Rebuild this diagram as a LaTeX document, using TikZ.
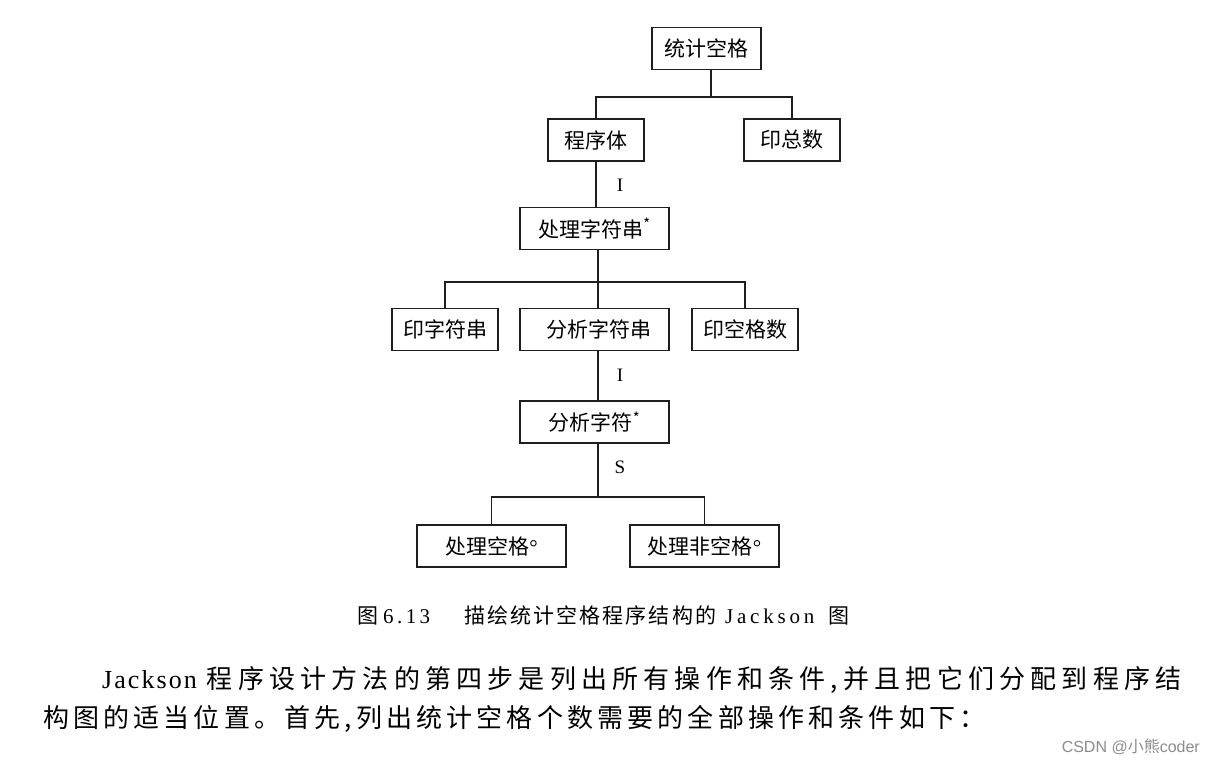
\documentclass[tikz,border=0pt]{standalone}
\usepackage{fontspec}
\setmainfont{Liberation Serif}
\newfontfamily\cjk{Noto Sans CJK SC}
\newfontfamily\cjkjust[LetterSpace=20]{Noto Sans CJK SC}
\newfontfamily\cjkbody[LetterSpace=16]{Noto Sans CJK SC}
\newfontfamily\cjkcap[LetterSpace=10]{Noto Sans CJK SC}
\newfontfamily\markfont{Liberation Sans}
\definecolor{inkline}{RGB}{30,30,30}

\begin{document}
\begin{tikzpicture}[x=1pt, y=-1pt,
    box/.style={draw=inkline, line width=1.3pt, inner sep=0pt, minimum height=42pt,
      font=\fontsize{21}{25}\selectfont\cjk},
    link/.style={draw=inkline, line width=1.3pt},
    tag/.style={font=\fontsize{19}{22}\selectfont}]
  \fill[white] (0,0) rectangle (1215,764);
  \useasboundingbox (0,0) rectangle (1215,764);

  % top level
  \node[box, minimum width=109pt] (tjkg) at (706.5, 48.5) {统计空格};
  \node[box, minimum width=96pt] (cxt) at (596, 140) {程序体};
  \node[box, minimum width=96pt] (yzs) at (792, 140) {印总数};
  \node[tag] (iter1) at (620, 185) {I};

  \node[box, minimum width=149pt] (clzfc) at (594.5, 228.5) {处理字符串\textsuperscript{*}};
  \node[box, minimum width=106pt] (yzfc) at (445, 329.5) {印字符串};
  \node[box, minimum width=149pt] (fxzfc) at (594.5, 329.5) {\hspace{8pt}分析字符串};
  \node[box, minimum width=106pt] (ykgs) at (745, 329.5) {印空格数};
  \node[tag] (iter2) at (620, 375) {I};

  \node[box, minimum width=149pt] (fxzf) at (594.5, 422) {分析字符\textsuperscript{*}};
  \node[tag] (sel) at (620, 467) {S};
  \node[box, minimum width=149pt] (clkg) at (491.5, 546) {处理空格{\rmfamily°}};
  \node[box, minimum width=149pt] (clfkg) at (704.5, 546) {处理非空格{\rmfamily°}};

  % connectors
  \coordinate (j1) at (711, 97);
  \coordinate (j2) at (598, 282);
  \coordinate (j3) at (598, 497);
  \draw[link] (tjkg.south -| j1) -- (j1);
  \draw[link] (cxt.north) |- (j1) -| (yzs.north);
  \draw[link] (cxt.south) -- (cxt.south |- clzfc.north);
  \draw[link] (clzfc.south -| j2) -- (j2);
  \draw[link] (yzfc.north) |- (j2) -| (ykgs.north);
  \foreach \n in {fxzfc} \draw[link] (\n.north -| j2) -- (j2);
  \draw[link] (fxzfc.south -| j2) -- (fxzf.north -| j2);
  \draw[link] (fxzf.south -| j3) -- (j3);
  \draw[link] (clkg.north) |- (j3) -| (clfkg.north);

  % caption and text
  \node[anchor=base west, inner sep=0pt, font=\fontsize{21}{24}\selectfont] (caption) at (357, 623)
    {{\cjkcap 图}\hspace{5pt}{\addfontfeature{LetterSpace=16}6.\,13}\hspace{34pt}{\cjkcap 描绘统计空格程序结构的}\hspace{9pt}{\addfontfeature{LetterSpace=18}Jackson}\hspace{14pt}{\cjk 图}};
  \node[anchor=base west, inner sep=0pt, font=\fontsize{26}{30}\selectfont] (line1) at (102, 688)
    {{\addfontfeature{LetterSpace=8}Jackson}\hspace{10pt}{\cjkjust 程序设计方法的第四步是列出所有操作和条件,并且把它们分配到程序结}};
  \node[anchor=base west, inner sep=0pt, font=\fontsize{26}{30}\selectfont] (line2) at (43, 727)
    {{\cjkbody 构图的适当位置。首先,列出统计空格个数需要的全部操作和条件如下：}};
  \node[anchor=base east, inner sep=0pt, text=black!45, font=\fontsize{16}{19}\selectfont\markfont] (mark) at (1200, 752)
    {CSDN @{\cjk 小熊}coder};
\end{tikzpicture}
\end{document}
